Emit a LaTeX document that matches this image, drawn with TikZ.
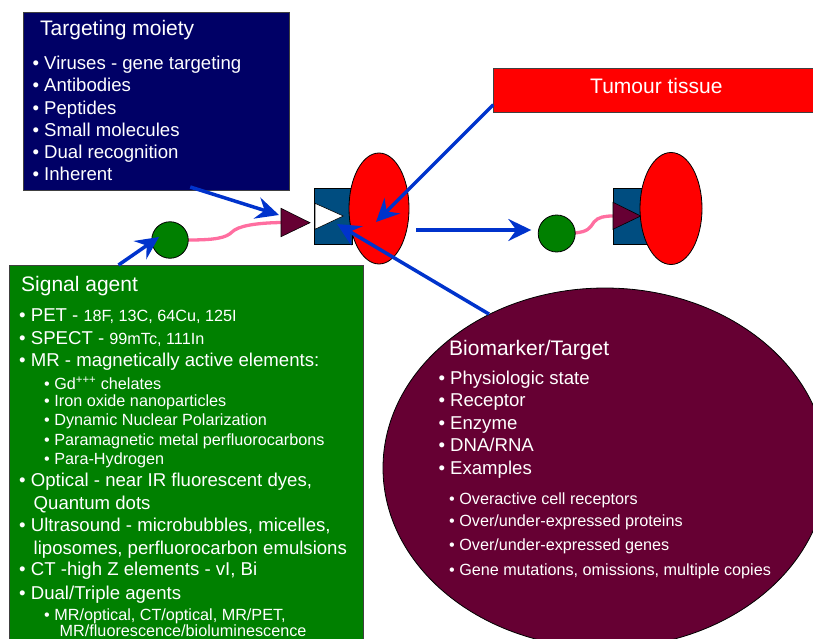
\documentclass[tikz,border=0pt]{standalone}
\usepackage{fontspec}
\setmainfont{Liberation Sans}
\usepackage{tikz}
\usetikzlibrary{arrows.meta}
\usetikzlibrary{shapes.geometric}
\usetikzlibrary{positioning}

\definecolor{moietyblue}{RGB}{0,0,102}
\definecolor{agentgreen}{RGB}{0,128,0}
\definecolor{markermaroon}{RGB}{102,0,51}
\definecolor{receptorblue}{RGB}{0,77,128}
\definecolor{linkerpink}{RGB}{255,110,160}
\definecolor{arrowblue}{RGB}{0,51,204}

\newcommand{\headsize}{\fontsize{21}{25}\selectfont}
\newcommand{\itemsize}{\fontsize{18.6}{22}\selectfont}
\newcommand{\subsize}{\fontsize{16.2}{19}\selectfont}

\tikzset{
  panel/.style={draw=black!75, line width=1pt, anchor=north west, inner sep=0pt},
  head/.style={anchor=base west, inner sep=0pt, text=white, font=\headsize},
  item/.style={anchor=base west, inner sep=0pt, text=white, font=\itemsize},
  cell/.style={ellipse, draw=black, line width=0.8pt, fill=red, inner sep=0pt},
  ligand/.style={circle, draw=black, line width=0.8pt, fill=agentgreen, inner sep=0pt, minimum size=36.5pt},
  linker/.style={draw=linkerpink, line width=3.3pt},
  pointer/.style={draw=arrowblue, line width=3.5pt, -{Stealth[length=23pt, width=22pt, inset=8pt]}}
}

\begin{document}
\begin{tikzpicture}[x=1pt,y=-1pt]
		\clip (0,0) rectangle (813,639);

		\node[panel, fill=moietyblue, minimum width=265.5pt, minimum height=177.5pt] (tgt) at (23,12.5) {};
		\node[panel, fill=agentgreen, minimum width=353.4pt, minimum height=400pt] (sig) at (9.3,265) {};
		\node[panel, fill=red, minimum width=340pt, minimum height=43.4pt] (tum) at (493.3,68.3) {};
		\node[ellipse, draw=black, line width=0.8pt, fill=markermaroon, inner sep=0pt, minimum width=444pt, minimum height=360pt] (bio) at (605,468) {};

		% unbound conjugate and target cell
		\node[panel, fill=receptorblue, draw=black, minimum width=38pt, minimum height=56pt] (rec1) at (314,188) {};
		\filldraw[fill=white, draw=black, line width=0.6pt] (315,203.3) -- (315,229.3) -- (343.3,216) -- cycle;
		\node[cell, minimum width=60pt, minimum height=111pt] (cell1) at (379,208.5) {};
		\coordinate (mt1) at (281,222.5);
		\draw[linker] (188,240) .. controls (215,240) and (226,238) .. (232,232) .. controls (238,226) and (255,223) .. (mt1);
		\node[ligand] (lig1) at (170,240) {};
		\filldraw[fill=markermaroon, draw=black, line width=0.6pt] (281,208.3) -- (281,236.7) -- (310,222.7) -- cycle;

		% bound conjugate
		\node[panel, fill=receptorblue, draw=black, minimum width=38pt, minimum height=56.6pt] (rec2) at (612.7,187.7) {};
		\node[cell, minimum width=62pt, minimum height=112pt] (cell2) at (671,208.5) {};
		\coordinate (mt2) at (613,216);
		\draw[linker] (574,233) .. controls (588,232) and (590,228) .. (594,222) .. controls (598,217) and (605,216) .. (mt2);
		\node[ligand, minimum size=37pt] (lig2) at (556.7,233.5) {};
		\filldraw[fill=markermaroon, draw=black, line width=0.6pt] (613,202.3) -- (613,229.3) -- (640.7,216) -- cycle;

		% texts
		\node[head] (tgthead) at (40,36) {Targeting moiety};
		\foreach \yy/\txt [count=\i] in {69.3/Viruses - gene targeting, 92/Antibodies, 114.3/Peptides,
				136.7/Small molecules, 158.7/Dual recognition, 180.7/Inherent}
			\node[item] (tgt\i) at (32.3,\yy) {\textbullet\ \txt};

		\node[head] (sighead) at (21,291) {Signal agent};
		\foreach \xx/\yy/\txt [count=\i] in {
				19/321/{\textbullet\ PET - {\subsize 18F, 13C, 64Cu, 125I}},
				19/344/{\textbullet\ SPECT - {\subsize 99mTc, 111In}},
				19/366/{\textbullet\ MR - magnetically active elements:},
				44/389.3/{\subsize\textbullet\ Gd\textsuperscript{+++} chelates},
				44/406.7/{\subsize\textbullet\ Iron oxide nanoparticles},
				44/425.7/{\subsize\textbullet\ Dynamic Nuclear Polarization},
				44/445.3/{\subsize\textbullet\ Paramagnetic metal perfluorocarbons},
				44/464.7/{\subsize\textbullet\ Para-Hydrogen},
				19/486.7/{\textbullet\ Optical - near IR fluorescent dyes,},
				33.5/509/{Quantum dots},
				19/531/{\textbullet\ Ultrasound - microbubbles, micelles,},
				33.5/554/{liposomes, perfluorocarbon emulsions},
				19/575.7/{\textbullet\ CT -high Z elements - vI, Bi},
				19/599.3/{\textbullet\ Dual/Triple agents},
				44/620/{\subsize\textbullet\ MR/optical, CT/optical, MR/PET,},
				59.5/636.7/{\subsize MR/fluorescence/bioluminescence}}
			\node[item] (sig\i) at (\xx,\yy) {\txt};

		\node[head] (tumhead) at (590,93.3) {Tumour tissue};

		\node[head] (biohead) at (449,355) {Biomarker/Target};
		\foreach \xx/\yy/\txt [count=\i] in {
				438.3/384/{\textbullet\ Physiologic state},
				438.3/406.7/{\textbullet\ Receptor},
				438.3/429/{\textbullet\ Enzyme},
				438.3/451.7/{\textbullet\ DNA/RNA},
				438.3/474/{\textbullet\ Examples},
				449/504/{\subsize\textbullet\ Overactive cell receptors},
				449/526.7/{\subsize\textbullet\ Over/under-expressed proteins},
				449/550.7/{\subsize\textbullet\ Over/under-expressed genes},
				449/575/{\subsize\textbullet\ Gene mutations, omissions, multiple copies}}
			\node[item] (bio\i) at (\xx,\yy) {\txt};

		% arrows
		\coordinate (dock1) at (279,215);
		\coordinate (dock2) at (159,237);
		\coordinate (dock3) at (376,222);
		\coordinate (dock4) at (337,224);
		\draw[pointer] ([shift={(34,-4)}]tgt.south) -- (dock1);
		\draw[pointer] ([shift={(-68,0)}]sig.north) -- (dock2);
		\draw[pointer] ([shift={(0,-8)}]tum.south west) -- (dock3);
		\draw[pointer] (bio.127) -- (dock4);
		\draw[pointer] ([shift={(7,21.5)}]cell1.east) -- ([shift={(-6.5,-3.5)}]lig2.west);
\end{tikzpicture}
\end{document}
